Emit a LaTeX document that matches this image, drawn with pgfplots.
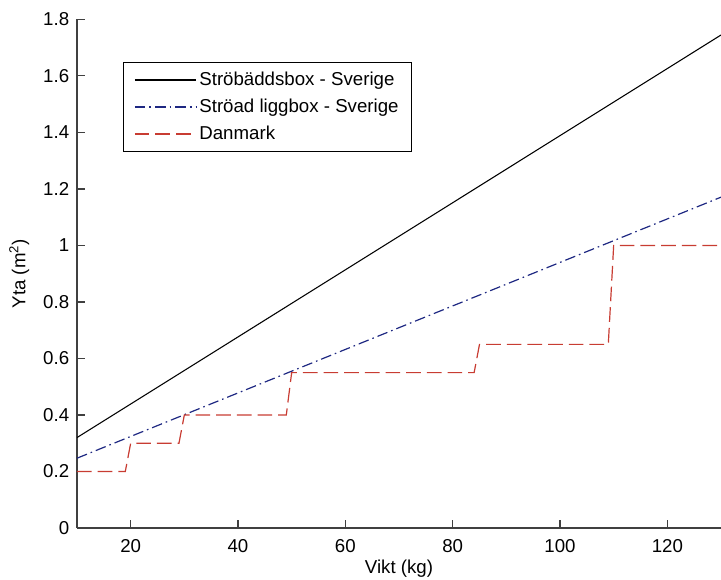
\documentclass[border=0pt]{standalone}
\usepackage{fontspec}
\setmainfont{Liberation Sans}
\usepackage{pgfplots}
\pgfplotsset{compat=1.18}
\definecolor{dkred}{RGB}{200,60,50}
\definecolor{dkblue}{RGB}{30,40,130}
\begin{document}
\fontsize{14}{17}\selectfont
\begin{tikzpicture}
\begin{axis}[
  scale only axis,
  width=483pt, height=381.4pt,
  xmin=10, xmax=130, ymin=0, ymax=1.8,
  xtick={20,40,60,80,100,120},
  ytick={0,0.2,0.4,0.6,0.8,1,1.2,1.4,1.6,1.8},
  yticklabels={0,0.2,0.4,0.6,0.8,1,1.2,1.4,1.6,1.8},
  xticklabels={20,40,60,80,100,120},
  axis lines=left,
  axis line style={-, black!75, line width=0.8pt},
  tick style={black!75, line width=0.8pt},
  tick align=inside,
  major tick length=6pt,
  tick label style={font=\fontsize{14}{17}\selectfont},
  xticklabel style={yshift=-4pt},
  yticklabel style={xshift=-1pt},
  label style={font=\fontsize{14}{17}\selectfont},
  xlabel={Vikt (kg)},
  ylabel={Yta (m\textsuperscript{2})},
  xlabel style={yshift=4pt},
  ylabel style={yshift=1pt},
  legend style={at={(axis description cs:0.0714,0.9164)}, anchor=north west,
    draw=black, line width=0.8pt, font=\fontsize{14}{17}\selectfont,
    inner xsep=8pt, inner ysep=5pt, row sep=4pt,
    /tikz/every even column/.append style={column sep=0pt}},
  legend cell align=left,
  legend image code/.code={\draw[#1] (0pt,0pt) -- (46pt,0pt);},
  clip=true,
]
\addplot[black, line width=0.8pt] coordinates {(10,0.32) (130,1.745)};
\addlegendentry{Ströbäddsbox - Sverige}
\addplot[dkblue, line width=0.9pt, dash pattern=on 8pt off 3pt on 1.2pt off 3pt] coordinates {(10,0.247) (130,1.171)};
\addlegendentry{Ströad liggbox - Sverige}
\addplot[dkred, line width=0.9pt, dash pattern=on 11pt off 4.5pt] coordinates {
(10,0.2) (19,0.2) (20,0.3) (29,0.3) (30,0.4) (49,0.4) (50,0.55) (84,0.55) (85,0.65) (109,0.65) (110,1.0) (130,1.0)};
\addlegendentry{Danmark}
\end{axis}
\pgfresetboundingbox
\path ([shift={(-57.75pt,-39pt)}]current axis.south west) rectangle ([shift={(0pt,14.6pt)}]current axis.north east);
\end{tikzpicture}
\end{document}
